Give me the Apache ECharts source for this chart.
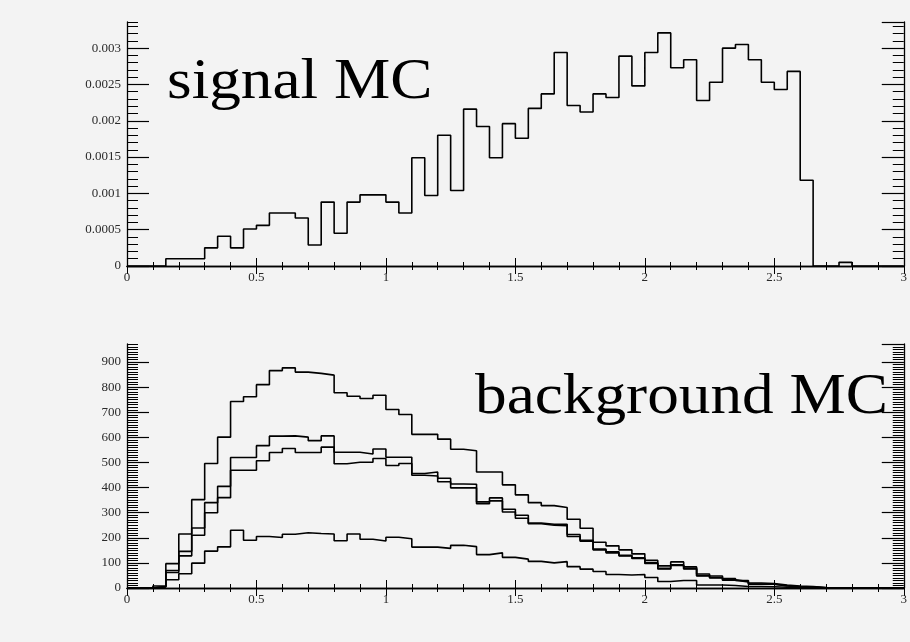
<!DOCTYPE html>
<html>
<head>
<meta charset="utf-8">
<script src="https://cdn.jsdelivr.net/npm/echarts@6/dist/echarts.min.js"></script>
<style>
  html, body { margin: 0; padding: 0; background: #f3f3f3; }
  #chart { width: 910px; height: 642px; }
</style>
</head>
<body>
<div id="chart"></div>
<script>
// ---- data ----
const binStart = 0;
const binWidth = 0.05;

const signalMC = [0,0,0,0.0001,0.0001,0.0001,0.00025,0.00041,0.00025,0.00051,
  0.00056,0.00073,0.00073,0.00066,0.00029,0.00088,0.00045,0.00088,0.00098,0.00098,
  0.00088,0.00073,0.00149,0.00097,0.0018,0.00104,0.00216,0.00192,0.00149,0.00196,
  0.00176,0.00217,0.00237,0.00294,0.00221,0.00212,0.00237,0.00232,0.00289,0.00248,
  0.00294,0.00321,0.00273,0.00284,0.00228,0.00253,0.003,0.00305,0.00284,0.00253,
  0.00243,0.00268,0.00118,0,0,0.00005,0,0,0,0];

const bgA = [0,0,8,97,215,352,496,601,743,762,
  810,866,877,860,855,848,778,764,755,768,
  711,691,612,612,593,553,547,462,462,411,
  371,340,328,321,274,238,182,168,152,136,
  110,88,104,84,56,48,38,30,20,18,
  12,8,6,2,0,0,0,0,0,0];

const bgB = [0,0,6,70,146,239,340,405,520,520,
  567,605,606,601,587,606,495,501,501,516,
  488,496,449,446,423,399,399,336,347,303,
  278,256,250,248,205,186,152,140,128,118,
  98,76,90,76,48,40,31,24,15,15,
  8,4,4,1,0,0,0,0,0,0];

const bgC = [0,0,5,62,128,210,300,360,469,469,
  507,540,556,540,540,561,541,541,534,554,
  521,521,456,462,437,414,413,343,359,314,
  290,259,254,254,213,190,155,144,130,120,
  100,78,92,78,50,42,33,26,16,15,
  9,5,4,1,0,0,0,0,0,0];

const bgD = [0,0,4,33,57,99,147,164,230,190,
  205,201,214,220,217,215,188,215,194,187,
  202,196,163,163,158,170,165,133,140,122,
  115,106,100,105,85,75,66,54,52,54,
  42,26,30,30,12,12,10,6,6,5,
  3,2,0,0,0,0,0,0,0,0];

const xTicks = [0, 0.5, 1, 1.5, 2, 2.5, 3];
const xTickLabels = ['0', '0.5', '1', '1.5', '2', '2.5', '3'];
const topYTicks = [0, 0.0005, 0.001, 0.0015, 0.002, 0.0025, 0.003];
const topYTickLabels = ['0', '0.0005', '0.001', '0.0015', '0.002', '0.0025', '0.003'];
const botYTicks = [0, 100, 200, 300, 400, 500, 600, 700, 800, 900];
const botYTickLabels = ['0', '100', '200', '300', '400', '500', '600', '700', '800', '900'];

const titles = ['signal MC', 'background MC'];

// ---- helpers ----
function histPoints(vals) {
  const pts = vals.map((v, i) => [binStart + i * binWidth, v]);
  pts.push([binStart + vals.length * binWidth, 0]);
  return pts;
}
function labelFmt(ticks, labels) {
  return function (v) {
    const i = ticks.findIndex(t => Math.abs(t - v) < 1e-9 * Math.max(1, Math.abs(t)));
    return i >= 0 ? labels[i] : '';
  };
}
const labelFont = { fontFamily: 'Liberation Serif', fontSize: 13, color: '#2a2a2a' };
const axisLine = { show: true, lineStyle: { color: '#000', width: 1.3 } };

function xAxes(gridIndex) {
  return [
    { type: 'value', gridIndex, position: 'bottom', min: 0, max: 3, interval: 0.5,
      axisLine, splitLine: { show: false },
      axisTick: { show: true, inside: true, length: 8, lineStyle: { color: '#000', width: 1 } },
      minorTick: { show: true, splitNumber: 5, length: 4, lineStyle: { color: '#000', width: 1 } },
      axisLabel: Object.assign({ margin: 5, formatter: labelFmt(xTicks, xTickLabels) }, labelFont) },
    { type: 'value', gridIndex, position: 'top', min: 0, max: 3, interval: 0.5,
      axisLine, splitLine: { show: false },
      axisTick: { show: true, inside: true, length: 8, lineStyle: { color: '#000', width: 1 } },
      minorTick: { show: true, splitNumber: 5, length: 4, lineStyle: { color: '#000', width: 1 } },
      axisLabel: { show: false } }
  ];
}
function yAxes(gridIndex, max, major, minor, ticks, labels) {
  const common = { type: 'value', gridIndex, min: 0, max, splitLine: { show: false } };
  return [
    Object.assign({}, common, { position: 'left', interval: major, axisLine,
      axisTick: { show: true, inside: true, length: 22, lineStyle: { color: '#000', width: 1.2 } },
      axisLabel: Object.assign({ margin: 6, showMaxLabel: false, formatter: labelFmt(ticks, labels) }, labelFont) }),
    Object.assign({}, common, { position: 'left', interval: minor, axisLine: { show: false },
      axisTick: { show: true, inside: true, length: 11, lineStyle: { color: '#000', width: 1 } },
      axisLabel: { show: false } }),
    Object.assign({}, common, { position: 'right', interval: major, axisLine,
      axisTick: { show: true, inside: true, length: 22, lineStyle: { color: '#000', width: 1.2 } },
      axisLabel: { show: false } }),
    Object.assign({}, common, { position: 'right', interval: minor, axisLine: { show: false },
      axisTick: { show: true, inside: true, length: 11, lineStyle: { color: '#000', width: 1 } },
      axisLabel: { show: false } })
  ];
}
function histSeries(vals, xIdx, yIdx) {
  return { type: 'line', step: 'end', xAxisIndex: xIdx, yAxisIndex: yIdx,
    data: histPoints(vals), symbol: 'none', silent: true, animation: false, clip: true,
    lineStyle: { color: '#000', width: 1.6 } };
}

const chart = echarts.init(document.getElementById('chart'), null, { renderer: 'canvas' });
chart.setOption({
  backgroundColor: '#f3f3f3',
  animation: false,
  grid: [
    { left: 127, top: 22, width: 781, height: 244 },
    { left: 127, top: 344, width: 781, height: 244 }
  ],
  xAxis: xAxes(0).concat(xAxes(1)),
  yAxis: yAxes(0, 0.00336, 0.0005, 0.0001, topYTicks, topYTickLabels)
    .concat(yAxes(1, 972, 100, 10, botYTicks, botYTickLabels)),
  series: [
    histSeries(signalMC, 0, 0),
    histSeries(bgA, 2, 4),
    histSeries(bgB, 2, 4),
    histSeries(bgC, 2, 4),
    histSeries(bgD, 2, 4)
  ],
  graphic: [
    { type: 'text', x: 167, y: 83, scaleX: 1.13, silent: true,
      style: { x: 0, y: 0, text: titles[0], font: '56px "Liberation Serif"', fill: '#000',
        align: 'left', verticalAlign: 'middle' } },
    { type: 'text', x: 475, y: 398, scaleX: 1.13, silent: true,
      style: { x: 0, y: 0, text: titles[1], font: '56px "Liberation Serif"', fill: '#000',
        align: 'left', verticalAlign: 'middle' } }
  ]
});
</script>
</body>
</html>
